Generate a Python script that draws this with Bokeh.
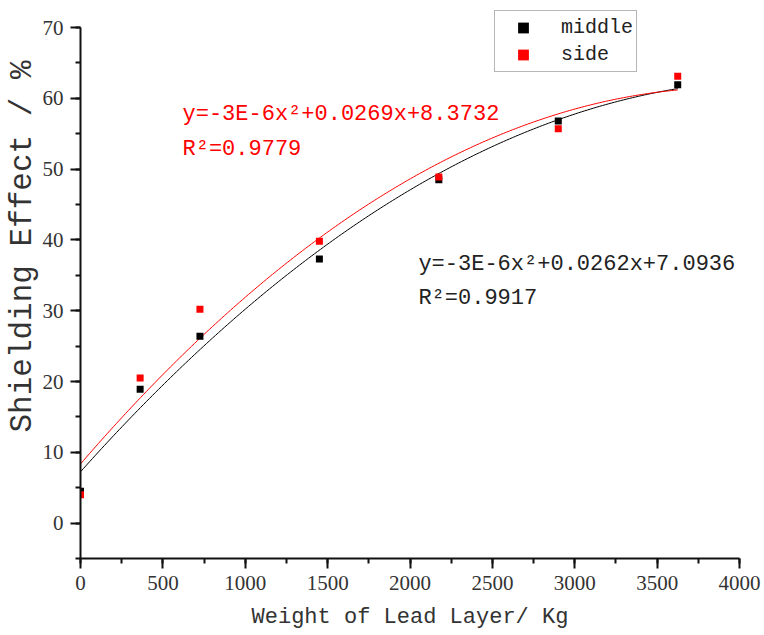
import math
import numpy as np
from bokeh.plotting import figure
from bokeh.models import Range1d, FixedTicker, Label, Legend, LegendItem, Title
from bokeh.embed import file_html
from bokeh.resources import INLINE

# ---- data ----
weight = [0, 362, 725, 1450, 2175, 2900, 3625]
middle = [4.5, 18.9, 26.4, 37.3, 48.5, 56.8, 61.9]
side = [4.0, 20.5, 30.2, 39.8, 48.9, 55.7, 63.1]
x_ticks = [0, 500, 1000, 1500, 2000, 2500, 3000, 3500, 4000]
y_ticks = [0, 10, 20, 30, 40, 50, 60, 70]
eq_side = ["y=-3E-6x\u00b2+0.0269x+8.3732", "R\u00b2=0.9779"]
eq_middle = ["y=-3E-6x\u00b2+0.0262x+7.0936", "R\u00b2=0.9917"]
series_names = ["middle", "side"]
x_title = "Weight of Lead Layer/ Kg"
y_title = "Shielding Effect / %"

MONO = "Liberation Mono"
SERIF = "Liberation Serif"

p = figure(width=764, height=635, output_backend="svg", toolbar_location=None,
           x_range=Range1d(0, 4000), y_range=Range1d(-5, 73.25),
           min_border_left=80, min_border_right=25, min_border_top=4, min_border_bottom=77)
p.outline_line_color = None
p.grid.visible = False

# quadratic least-squares fits of the data (trend lines)
xs = np.linspace(0, max(weight), 200)
fit_mid = np.polyval(np.polyfit(weight, middle, 2), xs)
fit_side = np.polyval(np.polyfit(weight, side, 2), xs)
p.line(xs, fit_mid, line_color="#000000", line_width=1)
p.line(xs, fit_side, line_color="#ff0000", line_width=1)

r_mid = p.scatter(weight, middle, marker="square", size=7, fill_color="#000000", line_color=None)
r_side = p.scatter(weight, side, marker="square", size=7, fill_color="#ff0000", line_color=None)

for ax, ticks, minor in ((p.xaxis[0], x_ticks, 250), (p.yaxis[0], y_ticks, 5)):
    mn = list(np.arange(ticks[0] - (minor if ax is p.yaxis[0] else 0), ticks[-1] + minor / 2, minor))
    ax.ticker = FixedTicker(ticks=ticks, minor_ticks=mn)
    ax.axis_line_width = 2
    ax.axis_line_color = "#111111"
    ax.major_tick_line_width = 2
    ax.minor_tick_line_width = 2
    ax.major_tick_line_color = "#111111"
    ax.minor_tick_line_color = "#111111"
    ax.major_tick_out = 10
    ax.major_tick_in = 0
    ax.minor_tick_out = 5
    ax.minor_tick_in = 0
    ax.major_label_text_font = SERIF
    ax.major_label_text_font_size = "21px"
    ax.major_label_text_color = "#333333"

p.yaxis[0].bounds = (-5, 70)
p.yaxis[0].major_label_standoff = 7
p.xaxis[0].major_label_standoff = 7
p.xaxis[0].axis_label = x_title
p.xaxis[0].axis_label_text_font = MONO
p.xaxis[0].axis_label_text_font_size = "22px"
p.xaxis[0].axis_label_text_font_style = "normal"
p.xaxis[0].axis_label_text_color = "#333333"
p.xaxis[0].axis_label_standoff = 12

p.add_layout(Title(text=y_title, align="left", offset=126, standoff=0,
                   text_font=MONO, text_font_size="31px", text_font_style="normal",
                   text_color="#333333"), "left")

for i, t in enumerate(eq_side):
    p.add_layout(Label(x=619, y=[59.5, 54.6][i], text=t, text_baseline="top",
                       text_font=MONO, text_font_size="22px", text_color="#ff0000"))
for i, t in enumerate(eq_middle):
    p.add_layout(Label(x=2051, y=[38.3, 33.5][i], text=t, text_baseline="top",
                       text_font=MONO, text_font_size="22px", text_color="#222222"))

legend = Legend(items=[LegendItem(label=series_names[0], renderers=[r_mid]),
                       LegendItem(label=series_names[1], renderers=[r_side])],
                location=(414, 486), orientation="vertical",
                border_line_color="#6e6e6e", border_line_width=1.5,
                padding=3, spacing=0, margin=0, label_standoff=13,
                glyph_width=50, glyph_height=27, label_height=27,
                label_text_font=MONO, label_text_font_size="20px",
                label_text_color="#222222")
p.add_layout(legend)

open("out.html", "w").write(file_html(p, INLINE))
